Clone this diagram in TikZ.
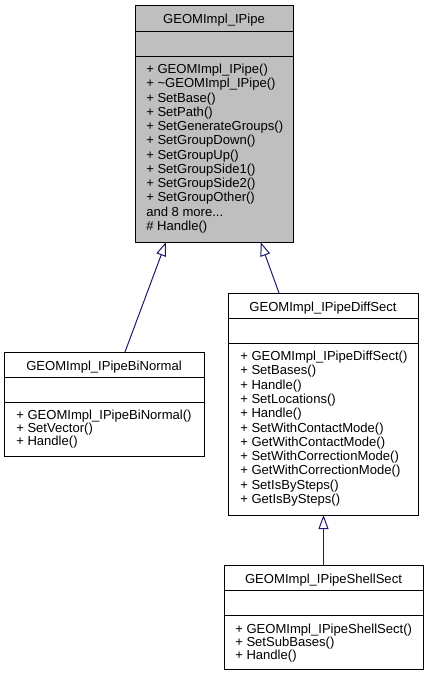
\documentclass[tikz,border=0pt]{standalone}
\usepackage{fontspec}
\setmainfont{Liberation Sans}
\usetikzlibrary{arrows.meta}
\definecolor{edgeblue}{HTML}{191970}
\definecolor{basegray}{HTML}{BFBFBF}
\begin{document}
\begin{tikzpicture}[x=0.75pt,y=-0.75pt,
  cls/.style={draw=black, line width=0.75pt, inner sep=0pt, outer sep=0pt, rectangle},
  divider/.style={draw=black, line width=0.75pt},
  txt/.style={anchor=base west, inner sep=0pt, font=\fontsize{9.8}{12}\selectfont},
  ttl/.style={anchor=base, inner sep=0pt, font=\fontsize{9.8}{12}\selectfont},
  inherit/.style={draw=edgeblue, line width=0.75pt, -{Triangle[open, length=10.5pt, width=7.5pt, fill=white]}},
]
\useasboundingbox (0,0) rectangle (429,676);

% ---- GEOMImpl_IPipe ----
\node[cls, fill=basegray, minimum width=118.5pt, minimum height=177.75pt] (base) at (214,123.5) {};
\draw[divider] (base.west |- 0,31) -- (base.east |- 0,31);
\draw[divider] (base.west |- 0,56) -- (base.east |- 0,56);
\node[ttl] (base-t) at (214,23) {GEOMImpl\_IPipe};
\foreach \t [count=\i from 0] in {{+ GEOMImpl\_IPipe()},{+ \textasciitilde GEOMImpl\_IPipe()},{+ SetBase()},{+ SetPath()},{+ SetGenerateGroups()},{+ SetGroupDown()},{+ SetGroupUp()},{+ SetGroupSide1()},{+ SetGroupSide2()},{+ SetGroupOther()}}
  \node[txt] (base-m\i) at (146,73.5+14.27*\i) {\t};
\node[txt] (base-m10) at (146,216.2) {and 8 more...};
\node[txt] (base-m11) at (146,230.5) {\# Handle()};

% ---- GEOMImpl_IPipeBiNormal ----
\node[cls, fill=white, minimum width=150pt, minimum height=78pt] (binormal) at (104,404) {};
\draw[divider] (binormal.west |- 0,377) -- (binormal.east |- 0,377);
\draw[divider] (binormal.west |- 0,402) -- (binormal.east |- 0,402);
\node[ttl] (binormal-t) at (104,370) {GEOMImpl\_IPipeBiNormal};
\foreach \t [count=\i from 0] in {{+ GEOMImpl\_IPipeBiNormal()},{+ SetVector()},{+ Handle()}}
  \node[txt] (binormal-m\i) at (16,419+13.3*\i) {\t};

% ---- GEOMImpl_IPipeDiffSect ----
\node[cls, fill=white, minimum width=142.5pt, minimum height=166.5pt] (diffsect) at (323,404) {};
\draw[divider] (diffsect.west |- 0,318) -- (diffsect.east |- 0,318);
\draw[divider] (diffsect.west |- 0,343) -- (diffsect.east |- 0,343);
\node[ttl] (diffsect-t) at (323,311) {GEOMImpl\_IPipeDiffSect};
\foreach \t [count=\i from 0] in {{+ GEOMImpl\_IPipeDiffSect()},{+ SetBases()},{+ Handle()},{+ SetLocations()},{+ Handle()},{+ SetWithContactMode()},{+ GetWithContactMode()},{+ SetWithCorrectionMode()},{+ GetWithCorrectionMode()},{+ SetIsBySteps()},{+ GetIsBySteps()}}
  \node[txt] (diffsect-m\i) at (240,360.5+14.3*\i) {\t};

% ---- GEOMImpl_IPipeShellSect ----
\node[cls, fill=white, minimum width=149.25pt, minimum height=78pt] (shell) at (323.5,617) {};
\draw[divider] (shell.west |- 0,590) -- (shell.east |- 0,590);
\draw[divider] (shell.west |- 0,615) -- (shell.east |- 0,615);
\node[ttl] (shell-t) at (323.5,583) {GEOMImpl\_IPipeShellSect};
\foreach \t [count=\i from 0] in {{+ GEOMImpl\_IPipeShellSect()},{+ SetSubBases()},{+ Handle()}}
  \node[txt] (shell-m\i) at (235,633+13.3*\i) {\t};

% ---- inheritance ----
\draw[inherit] ([xshift=15.75pt]binormal.north) -- ([xshift=-36pt]base.south);
\draw[inherit] ([xshift=-33pt]diffsect.north) -- ([xshift=34.9pt]base.south);
\draw[inherit] (shell.north) -- (shell.north |- diffsect.south);
\end{tikzpicture}
\end{document}
